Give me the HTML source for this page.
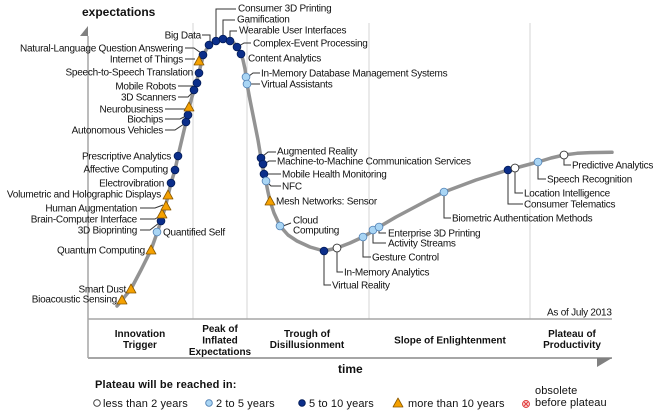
<!DOCTYPE html>
<html><head><meta charset="utf-8"><style>
html,body{margin:0;padding:0;background:#fff;}
svg{display:block;}
text{font-family:"Liberation Sans",Arial,sans-serif;fill:#111;}
.l{font-size:10px;letter-spacing:-0.25px;}
.b{font-size:10px;font-weight:bold;text-anchor:middle;}
.g{font-size:11px;letter-spacing:0.1px;}
</style></head><body>
<svg width="660" height="413" viewBox="0 0 660 413" xmlns="http://www.w3.org/2000/svg">
<!-- grid -->
<g stroke="#d6d6d6" stroke-width="1">
<line x1="193" y1="23" x2="193" y2="319"/>
<line x1="247" y1="23" x2="247" y2="319"/>
<line x1="369" y1="23" x2="369" y2="319"/>
<line x1="530" y1="23" x2="530" y2="319"/>
</g>
<!-- axes -->
<g stroke="#a6a6a6">
<line x1="88" y1="36" x2="88" y2="358" stroke-width="1.5"/>
<line x1="88" y1="319" x2="612" y2="319" stroke-width="1.5"/>
<line x1="88" y1="358" x2="612" y2="358" stroke-width="2"/>
</g>
<polygon points="88,26 88,36 80,36" fill="#808080"/>
<polygon points="597,358 612,358 597,367" fill="#808080"/>
<!-- curve -->
<polyline fill="none" stroke="#939393" stroke-width="3.5" stroke-linejoin="round" stroke-linecap="round"
points="117,306 122,300 131,289 141,270 151,250 157,233 161,221 165,208 168,196 171,183 175,170 178,156 182,139 186,122 189,108 192,97 195,87 199,72 203,57 206,50 209,46 212,43 216,41 223,39 230,41 234,43 237,47 239,50 241,54 243,60 245,69 247,84 250,100 254,120 258,140 261,158 264,174 266,182 268,192 270,201 274,213 280,226 288,235 297,241 310,247 324,251 337,248 350,243 363,237 373,231 379,227 396,217 413,208 428,200 444,192 460,186 476,180 492,175 508,170 523,166 538,162 551,158 564,155 577,153.3 590,152.6 612,152.3"/>
<!-- leaders -->
<g fill="none" stroke="#333" stroke-width="1">
<path d="M202,35H210V42"/>
<path d="M185,48H194L201,53"/>
<path d="M185,59H195"/>
<path d="M178,86H193"/>
<path d="M178,97H188L193,92"/>
<path d="M165,109H185"/>
<path d="M165,119H180L186,116"/>
<path d="M165,130H175L184,124"/>
<path d="M140,208H155L163,205"/>
<path d="M140,219H155L160,216"/>
<path d="M140,230H150L159,223"/>
<path d="M216,38V9H236"/>
<path d="M223,36V20H235"/>
<path d="M230,38V31H237"/>
<path d="M239,46L244,43H251"/>
<path d="M249,76L253,73H260"/>
<path d="M250,84H260"/>
<path d="M263,156L268,152H276"/>
<path d="M266,163L269,161H276"/>
<path d="M267,174H281"/>
<path d="M268,183L271,186H281"/>
<path d="M283,226L291,223"/>
<path d="M324,254V285H331"/>
<path d="M337,251V272H343"/>
<path d="M363,240V257H371"/>
<path d="M373,233V243H386"/>
<path d="M379,230V233H386"/>
<path d="M444,195V218H451"/>
<path d="M515,171V193H523"/>
<path d="M508,173V204H523"/>
<path d="M538,165V179H546"/>
<path d="M564,158V165H571"/>
</g>
<!-- markers: dark -->
<g fill="#0b2e8a" stroke="#021a55" stroke-width="0.8">
<circle cx="161" cy="221" r="3.9"/>
<circle cx="171" cy="183" r="3.9"/>
<circle cx="175" cy="170" r="3.9"/>
<circle cx="178" cy="156" r="3.9"/>
<circle cx="186" cy="122" r="3.9"/>
<circle cx="188" cy="115" r="3.9"/>
<circle cx="194" cy="90" r="3.9"/>
<circle cx="197" cy="83" r="3.9"/>
<circle cx="199" cy="73" r="3.9"/>
<circle cx="203" cy="55" r="3.9"/>
<circle cx="209" cy="45" r="3.9"/>
<circle cx="216" cy="41" r="3.9"/>
<circle cx="223" cy="39" r="3.9"/>
<circle cx="230" cy="41" r="3.9"/>
<circle cx="237" cy="47" r="3.9"/>
<circle cx="241" cy="54" r="3.9"/>
<circle cx="261" cy="158" r="3.9"/>
<circle cx="263" cy="164" r="3.9"/>
<circle cx="264" cy="174" r="3.9"/>
<circle cx="324" cy="251" r="3.9"/>
<circle cx="508" cy="170" r="3.9"/>
</g>
<!-- light -->
<g fill="#a9d5f4" stroke="#4f7fb3" stroke-width="0.8">
<circle cx="157" cy="232" r="3.9"/>
<circle cx="246" cy="77" r="3.9"/>
<circle cx="247" cy="84" r="3.9"/>
<circle cx="266" cy="181" r="3.9"/>
<circle cx="280" cy="226" r="3.9"/>
<circle cx="363" cy="237" r="3.9"/>
<circle cx="373" cy="230" r="3.9"/>
<circle cx="379" cy="227" r="3.9"/>
<circle cx="444" cy="192" r="3.9"/>
<circle cx="538" cy="162" r="3.9"/>
</g>
<!-- white -->
<g fill="#fff" stroke="#333" stroke-width="0.9">
<circle cx="337" cy="248" r="3.9"/>
<circle cx="515" cy="168" r="3.9"/>
<circle cx="564" cy="155" r="3.9"/>
</g>
<!-- triangles -->
<g fill="#f5a100" stroke="#8a5800" stroke-width="0.8" stroke-linejoin="round">
<polygon points="117,304 127,304 122,295"/>
<polygon points="126,293 136,293 131,284"/>
<polygon points="146,254 156,254 151,245"/>
<polygon points="157,218 167,218 162,209"/>
<polygon points="161,210 171,210 166,201"/>
<polygon points="163,199 173,199 168,190"/>
<polygon points="184,111 194,111 189,102"/>
<polygon points="194,65 204,65 199,56"/>
<polygon points="265,205 275,205 270,196"/>
</g>
<!-- left labels -->
<g class="l" text-anchor="end">
<text x="201" y="38.5">Big Data</text>
<text x="183" y="51.5">Natural-Language Question Answering</text>
<text x="183" y="62.5">Internet of Things</text>
<text x="193" y="75.5">Speech-to-Speech Translation</text>
<text x="176" y="89.5">Mobile Robots</text>
<text x="176" y="100.5">3D Scanners</text>
<text x="163" y="112.5">Neurobusiness</text>
<text x="163" y="122.5">Biochips</text>
<text x="163" y="133.5">Autonomous Vehicles</text>
<text x="171" y="159.5">Prescriptive Analytics</text>
<text x="168" y="172.5">Affective Computing</text>
<text x="164" y="186.5">Electrovibration</text>
<text x="161" y="197.5">Volumetric and Holographic Displays</text>
<text x="137" y="211.5">Human Augmentation</text>
<text x="137" y="222.5">Brain-Computer Interface</text>
<text x="137" y="233.5">3D Bioprinting</text>
<text x="145" y="253.5">Quantum Computing</text>
<text x="126" y="292.5">Smart Dust</text>
<text x="117" y="302.5">Bioacoustic Sensing</text>
</g>
<!-- right labels -->
<g class="l">
<text x="163" y="235.5">Quantified Self</text>
<text x="238" y="11.5">Consumer 3D Printing</text>
<text x="237" y="22.5">Gamification</text>
<text x="239" y="33.5">Wearable User Interfaces</text>
<text x="253" y="46.5">Complex-Event Processing</text>
<text x="248" y="61.5">Content Analytics</text>
<text x="261" y="76.5">In-Memory Database Management Systems</text>
<text x="261" y="87.5">Virtual Assistants</text>
<text x="277" y="154.5">Augmented Reality</text>
<text x="277" y="164.5">Machine-to-Machine Communication Services</text>
<text x="282" y="177.5">Mobile Health Monitoring</text>
<text x="282" y="189.5">NFC</text>
<text x="276" y="204.5">Mesh Networks: Sensor</text>
<text x="293" y="223.5">Cloud</text>
<text x="293" y="233.5">Computing</text>
<text x="332" y="288.5">Virtual Reality</text>
<text x="344" y="275.5">In-Memory Analytics</text>
<text x="372" y="260.5">Gesture Control</text>
<text x="388" y="246.5">Activity Streams</text>
<text x="388" y="236.5">Enterprise 3D Printing</text>
<text x="452" y="221.5">Biometric Authentication Methods</text>
<text x="524" y="196.5">Location Intelligence</text>
<text x="524" y="207.5">Consumer Telematics</text>
<text x="547" y="182.5">Speech Recognition</text>
<text x="572" y="168.5">Predictive Analytics</text>
<text x="547" y="315.5">As of July 2013</text>
</g>
<!-- axis titles -->
<text x="82" y="16" style="font-size:12px;font-weight:bold;">expectations</text>
<text x="338" y="373" style="font-size:12px;font-weight:bold;">time</text>
<!-- phases -->
<text class="b" x="140" y="337">Innovation</text>
<text class="b" x="140" y="348">Trigger</text>
<text class="b" x="220" y="332">Peak of</text>
<text class="b" x="220" y="343.5">Inflated</text>
<text class="b" x="220" y="355">Expectations</text>
<text class="b" x="307" y="337">Trough of</text>
<text class="b" x="307" y="348">Disillusionment</text>
<text class="b" x="450" y="343.5">Slope of Enlightenment</text>
<text class="b" x="572" y="337">Plateau of</text>
<text class="b" x="572" y="348">Productivity</text>
<!-- legend -->
<text x="95" y="388" style="font-size:11px;font-weight:bold;letter-spacing:0.15px;">Plateau will be reached in:</text>
<circle cx="97" cy="403" r="3.3" fill="#fff" stroke="#333" stroke-width="0.9"/>
<text class="g" x="103" y="407">less than 2 years</text>
<circle cx="209" cy="403" r="3.3" fill="#a9d5f4" stroke="#4f7fb3" stroke-width="0.9"/>
<text class="g" x="216" y="407">2 to 5 years</text>
<circle cx="302" cy="403" r="3.3" fill="#0b2e8a" stroke="#021a55" stroke-width="0.9"/>
<text class="g" x="309" y="407">5 to 10 years</text>
<polygon points="393,407 403,407 398,398" fill="#f5a100" stroke="#8a5800" stroke-width="0.8" stroke-linejoin="round"/>
<text class="g" x="408" y="407">more than 10 years</text>
<circle cx="526" cy="404" r="3.5" fill="#fbd0d0" stroke="#e03a3a" stroke-width="0.9"/>
<path d="M524,402L528,406M528,402L524,406" stroke="#e03a3a" stroke-width="0.9"/>
<text class="g" x="535" y="394">obsolete</text>
<text class="g" x="535" y="406">before plateau</text>
</svg>
</body></html>
